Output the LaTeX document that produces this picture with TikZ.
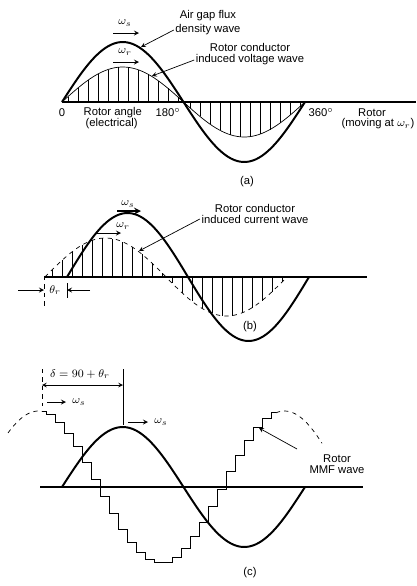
\documentclass[tikz,border=0pt]{standalone}
\usepackage{fontspec}
\setmainfont{Liberation Sans}
\usetikzlibrary{arrows.meta, positioning, calc}

\begin{document}
\begin{tikzpicture}[
    x=0.025cm, y=-0.025cm,
    >=stealth,
    font=\fontsize{8}{10}\selectfont,
    wave/.style={line width=1.4pt},
    thinwave/.style={line width=0.5pt},
    hatch/.style={line width=0.45pt},
    axisline/.style={line width=1.1pt},
    leader/.style={->, line width=0.5pt},
    speed/.style={->, line width=0.6pt},
    lbl/.style={inner sep=1pt}
]
\useasboundingbox (0,0) rectangle (416,586);

% ---------------- Panel (a) ----------------
\draw[axisline] (62,102) -- (416,102);

% Flux density wave and induced voltage wave
\draw[wave] plot[domain=62:305, samples=80, smooth] (\x,{102-60*sin((\x-62)/243*360)});
\draw[thinwave] plot[domain=62:305, samples=80, smooth] (\x,{102-35*sin((\x-62)/243*360)});

% Hatching under the voltage wave
\foreach \x in {68,78,...,178}
    \draw[hatch] (\x,102) -- (\x,{102-35*sin((\x-62)/243*360)});
\foreach \x in {190,200,...,300}
    \draw[hatch] (\x,102) -- (\x,{102-35*sin((\x-62)/243*360)});

% Speeds
\node[lbl] (wsa) at (125,23) {$\omega_s$};
\coordinate (wsaL) at (113,33);
\coordinate (wsaR) at (139,33);
\draw[speed] (wsaL) -- (wsaR);
\node[lbl] (wra) at (125,52) {$\omega_r$};
\coordinate (wraL) at (113,62);
\coordinate (wraR) at (139,62);
\draw[speed] (wraL) -- (wraR);

% Wave labels
\node[lbl] (fluxa) at (208,16) {Air gap flux};
\node[lbl] (fluxb) at (208,30) {density wave};
\coordinate (fluxtip) at (141,47);
\draw[leader] (fluxb.west) -- (fluxtip);

\node[lbl] (volta) at (250,47) {Rotor conductor};
\node[lbl] (voltb) at (250,60) {induced voltage wave};
\coordinate (volttip) at (152,76);
\draw[leader] (voltb.west) -- (volttip);

% Axis labels
\node[lbl] (zero) at (62,113) {0};
\node[lbl, anchor=west] (anglea) at (82,113) {Rotor angle};
\node[lbl, anchor=west] (angleb) at (84,124) {(electrical)};
\node[lbl] (deg180) at (168,113) {180$^\circ$};
\node[lbl] (deg360) at (321,113) {360$^\circ$};
\node[lbl] (rotora) at (372,113) {Rotor};
\node[lbl, anchor=east] (rotorb) at (416,124) {(moving at $\omega_r$)};

\node[lbl] (capa) at (247,182) {(a)};

% ---------------- Panel (b) ----------------
\draw[thinwave, line width=0.8pt] (45,277) -- (367,277);

% Flux density wave and induced current wave
\draw[wave] plot[domain=67:309, samples=80, smooth] (\x,{277-64*sin((\x-67)/242*360)});
\draw[thinwave, dashed] plot[domain=45:287, samples=80, smooth] (\x,{277-39*sin((\x-45)/242*360)});

% Hatching under the current wave
\foreach \x in {52,62,...,162}
    \draw[hatch] (\x,277) -- (\x,{277-39*sin((\x-45)/242*360)});
\foreach \x in {172,182,...,282}
    \draw[hatch] (\x,277) -- (\x,{277-39*sin((\x-45)/242*360)});

% Speeds
\node[lbl] (wsb) at (128,204) {$\omega_s$};
\coordinate (wsbL) at (117,211);
\coordinate (wsbR) at (141,211);
\draw[speed, line width=1.2pt] (wsbL) -- (wsbR);
\node[lbl] (wrb) at (123,226) {$\omega_r$};
\coordinate (wrbL) at (95,233);
\coordinate (wrbR) at (121,233);
\draw[speed] (wrbL) -- (wrbR);

% Current wave label
\node[lbl] (curra) at (255,208) {Rotor conductor};
\node[lbl] (currb) at (255,219) {induced current wave};
\coordinate (currtip) at (139,251);
\draw[leader] (currb.west) -- (currtip);

% Angle theta_r
\coordinate (thA) at (44,276);
\coordinate (thAb) at (44,307);
\coordinate (thB) at (67,283);
\coordinate (thBb) at (67,298);
\draw[thinwave, dashed] (thA) -- (thAb);
\draw[thinwave] (thB) -- (thBb);
\node[lbl] (theta) at (55,290) {$\theta_r$};
\coordinate (thAin) at (18,290);
\coordinate (thAend) at (44,290);
\coordinate (thBin) at (90,290);
\coordinate (thBend) at (67,290);
\draw[speed] (thAin) -- (thAend);
\draw[speed] (thBin) -- (thBend);

\node[lbl] (capb) at (250,327) {(b)};

% ---------------- Panel (c) ----------------
\draw[axisline] (40,487) -- (363,487);

% Flux density wave
\draw[wave] plot[domain=62:305, samples=80, smooth] (\x,{487-60*sin((\x-62)/243*360)});

% Rotor MMF wave: stepped part and dashed ends
\draw[thinwave] plot[const plot mark mid, samples at={42,51,...,276}] (\x,{487+76*sin((\x-100)/246*360)});
\draw[thinwave, dashed] plot[domain=8:42, samples=20, smooth] (\x,{487+76*sin((\x-100)/246*360)});
\draw[thinwave, dashed] plot[domain=276:322, samples=20, smooth] (\x,{487+76*sin((\x-100)/246*360)});

% Load angle delta
\node[lbl] (delta) at (80,374) {$\delta = 90 + \theta_r$};
\coordinate (dL) at (42,369);
\coordinate (dLb) at (42,406);
\coordinate (dR) at (123,369);
\coordinate (dRb) at (123,425);
\coordinate (dLm) at (42,385);
\coordinate (dRm) at (123,385);
\draw[thinwave, dashed] (dL) -- (dLb);
\draw[thinwave] (dR) -- (dRb);
\draw[<->, thinwave] (dLm) -- (dRm);

% Speeds
\coordinate (wscL) at (47,402);
\coordinate (wscR) at (66,402);
\draw[speed] (wscL) -- (wscR);
\node[lbl] (wsc) at (79,402) {$\omega_s$};
\coordinate (wsdL) at (128,422);
\coordinate (wsdR) at (148,422);
\draw[speed] (wsdL) -- (wsdR);
\node[lbl] (wsd) at (161,422) {$\omega_s$};

% MMF label
\node[lbl] (mmfa) at (337,459) {Rotor};
\node[lbl] (mmfb) at (337,470) {MMF wave};
\coordinate (mmfstart) at (297,449);
\coordinate (mmftip) at (259,428);
\draw[leader] (mmfstart) -- (mmftip);

\node[lbl] (capc) at (250,573) {(c)};

\end{tikzpicture}
\end{document}
